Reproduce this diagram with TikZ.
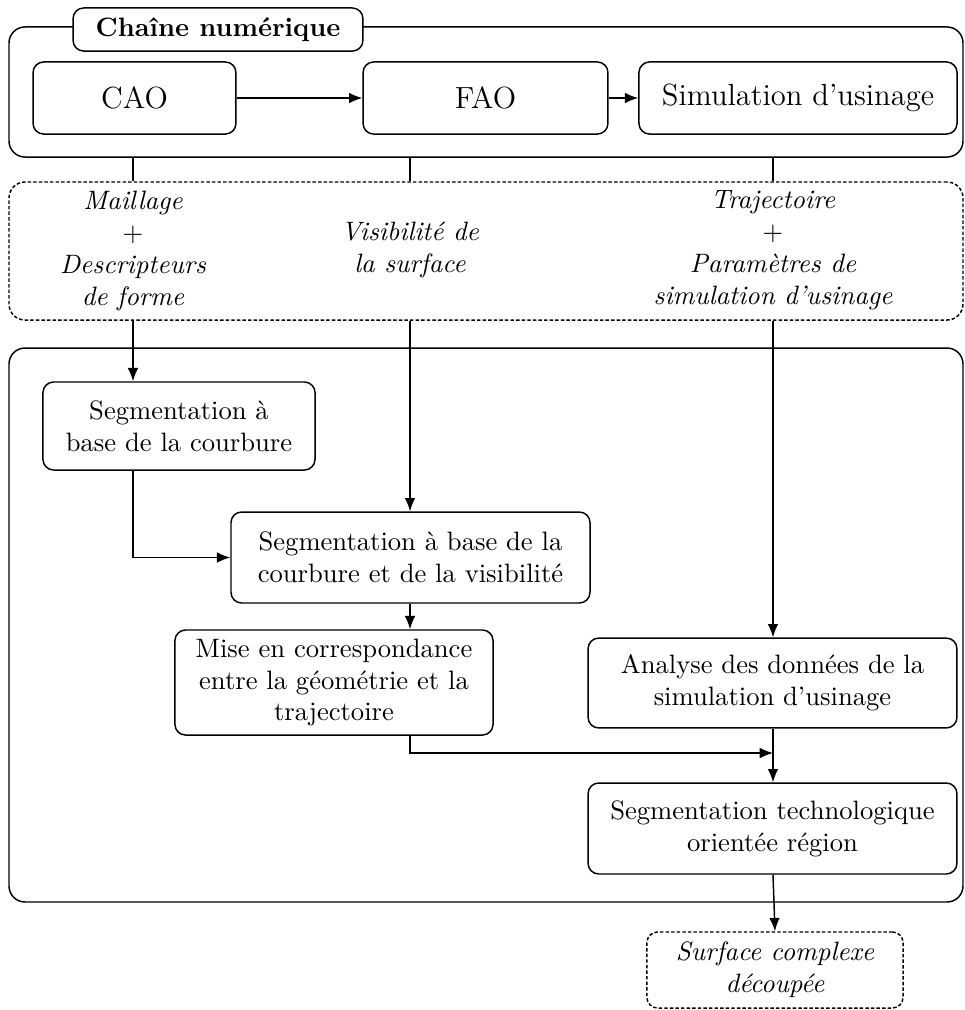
\documentclass[tikz,border=0pt]{standalone}
\usetikzlibrary{arrows.meta}
\begin{document}
\begin{tikzpicture}[x=0.376pt,y=-0.376pt,
  line width=0.55pt,
  box/.style={draw, rounded corners=4pt, align=center, inner sep=0pt},
  cont/.style={draw, rounded corners=6pt, inner sep=0pt},
  dashbox/.style={dash pattern=on 1.3pt off 0.8pt},
  big/.style={font=\fontsize{11.5}{14}\selectfont},
  ital/.style={font=\itshape, align=center, inner sep=0pt},
  arr/.style={-{Latex[length=5pt,width=4pt]}}]
\useasboundingbox (0,0) rectangle (965,1010);

% top container
\node[cont, minimum width=358.7pt, minimum height=48.9pt] (chain) at (486,92) {};
\node[box, fill=white, font=\bfseries, minimum width=109pt, minimum height=16.2pt] (title) at (218,29.5) {Chaîne numérique};
\node[box, big, minimum width=76.3pt, minimum height=27.1pt] (cao) at (134.5,98) {CAO};
\node[box, big, minimum width=92.1pt, minimum height=27.1pt] (fao) at (485.5,98) {FAO};
\node[box, big, minimum width=119.6pt, minimum height=27.1pt] (sim) at (798,98) {Simulation d'usinage};

% data box
\node[cont, dashbox, minimum width=358.7pt, minimum height=51.9pt] (data) at (486,251) {};
\node[ital] (d1) at (133,251) {Maillage\\$+$\\Descripteurs\\de forme};
\node[ital] (d2) at (410,250) {Visibilité de\\la surface};
\node[ital] (d3) at (773,250) {Trajectoire\\$+$\\Paramètres de\\simulation d'usinage};

% processing container
\node[cont, minimum width=358.7pt, minimum height=208.3pt] (proc) at (486,625) {};
\node[box, minimum width=102.3pt, minimum height=33.1pt] (seg1) at (179,426) {Segmentation à\\base de la courbure};
\node[box, minimum width=135pt, minimum height=34.2pt] (seg2) at (410.5,557.5) {Segmentation à base de la\\courbure et de la visibilité};
\node[box, minimum width=119.6pt, minimum height=39.5pt] (mise) at (334,682.5) {Mise en correspondance\\entre la géométrie et la\\trajectoire};
\node[box, minimum width=138.7pt, minimum height=33.8pt] (ana) at (772.5,683) {Analyse des données de la\\simulation d'usinage};
\node[box, minimum width=138.7pt, minimum height=34.2pt] (segt) at (772.5,828.5) {Segmentation technologique\\orientée région};
\node[box, dashbox, font=\itshape, minimum width=96.3pt, minimum height=28.6pt] (surf) at (775,970) {Surface complexe\\découpée};

\coordinate (j) at (773,753);

% connectors
\draw[arr] (cao.east) -- (fao.west);
\draw[arr] (fao.east) -- (sim.west);
\draw (chain.south -| d1) -- (data.north -| d1);
\draw (chain.south -| d2) -- (data.north -| d2);
\draw (chain.south -| d3) -- (data.north -| d3);
\draw[arr] (data.south -| d1) -- (seg1.north -| d1);
\draw[arr] (data.south -| d2) -- (seg2.north -| d2);
\draw[arr] (data.south -| d3) -- (ana.north -| d3);
\draw[arr] (seg1.south -| d1) |- (seg2.west);
\draw[arr] (seg2.south -| d2) -- (mise.north -| d2);
\draw[arr] (mise.south -| d2) |- (j);
\draw[arr] (ana.south -| d3) -- (segt.north -| d3);
\draw[arr] (segt.south -| d3) -- (surf.north);
\end{tikzpicture}
\end{document}
